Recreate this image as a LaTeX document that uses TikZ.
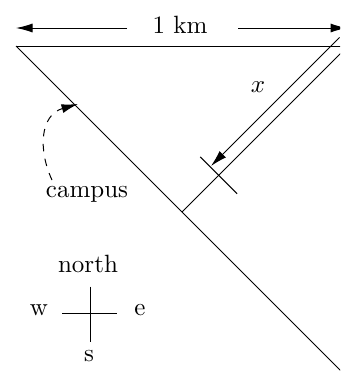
\documentclass[tikz,border=0pt]{standalone}
\usetikzlibrary{arrows.meta}
\begin{document}
\begin{tikzpicture}[x=0.4pt,y=-0.4pt, line width=0.4pt,
  tipped/.style={-{Latex[length=6.6pt,width=3.6pt]}},
  lbl/.style={inner sep=0pt, anchor=base}]
\useasboundingbox (0,0) rectangle (340,373);
\clip (0,0) rectangle (340,373);
% main triangle
\coordinate (A) at (16,46);
\coordinate (C) at (348,46);
\coordinate (F) at (182,212);
\coordinate (B) at (350,380);
\draw (A) -- (C);
\draw (A) -- (B);
\draw (F) -- (C);
% 1 km dimension
\coordinate (DL) at (16,28);
\coordinate (DR) at (347,28);
\coordinate (KL) at (127,28);
\coordinate (KR) at (238,28);
\node[lbl] (km) at (180,33) {1 km};
\draw[tipped] (KL) -- (DL);
\draw[tipped] (KR) -- (DR);
% x dimension
\coordinate (XS) at (339.5,37.5);
\coordinate (XE) at (211,166);
\draw[tipped] (XS) -- (XE);
\coordinate (T1) at (200.3,156.9);
\coordinate (T2) at (237.1,193.7);
\draw (T1) -- (T2);
\node (x) at (258,87.5) {$x$};
% campus
\node[lbl] (campus) at (87,197) {campus};
\coordinate (CS) at (52,180);
\coordinate (CE) at (78,104);
\draw[dashed, tipped] (CS) .. controls (38,150) and (40,115) .. (CE);
% compass
\node[lbl] (north) at (88,272.7) {north};
\node[lbl] (w) at (39,315) {w};
\node[lbl] (e) at (140,315) {e};
\node[lbl] (s) at (89,361.7) {s};
\coordinate (NT) at (90,286.7);
\coordinate (NB) at (90,341.7);
\coordinate (WL) at (62.3,313.3);
\coordinate (ER) at (117.3,313.3);
\draw (NT) -- (NB);
\draw (WL) -- (ER);
\end{tikzpicture}
\end{document}
